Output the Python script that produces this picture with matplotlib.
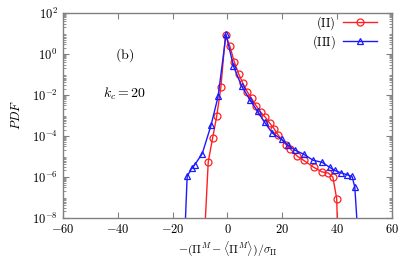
import numpy as np
import matplotlib
matplotlib.use('Agg')
import matplotlib.pyplot as plt
from matplotlib.ticker import LogLocator, NullFormatter

plt.rcParams['mathtext.fontset'] = 'cm'
plt.rcParams['font.family'] = 'serif'
plt.rcParams['font.serif'] = ['DejaVu Serif']

# case (II): x values and log10(PDF)
x_2 = [-8.4, -7.0, -5.4, -3.9, -2.4, -0.7, 0.9, 2.5, 4.1, 5.6, 7.2, 8.8, 10.5,
       12.2, 13.8, 15.4, 17.0, 18.4, 21.4, 23.0, 25.5, 27.8, 31.6, 34.6, 36.8,
       38.5, 39.9, 40.3]
logp_2 = [-9.0, -5.27, -4.11, -3.04, -1.64, 0.93, 0.37, -0.39, -0.98, -1.43,
          -1.84, -2.18, -2.54, -2.86, -3.09, -3.38, -3.65, -3.95, -4.44, -4.65,
          -5.0, -5.2, -5.55, -5.77, -5.82, -6.03, -7.08, -9.0]

# case (III)
x_3 = [-15.6, -14.7, -13.1, -11.9, -9.2, -6.0, -3.4, -0.5, 2.2, 5.2, 8.2, 11.0,
       13.6, 16.4, 19.8, 22.0, 24.6, 27.8, 31.3, 34.6, 37.4, 39.2, 41.6, 43.5,
       45.5, 46.5, 47.7]
logp_3 = [-9.0, -5.99, -5.6, -5.41, -4.88, -3.5, -2.08, 0.95, -0.6, -1.58,
          -2.24, -2.81, -3.35, -3.87, -4.18, -4.45, -4.7, -4.9, -5.2, -5.3,
          -5.55, -5.7, -5.82, -5.9, -5.99, -6.5, -9.0]

fig = plt.figure(figsize=(4.15, 2.59), dpi=100)
ax = fig.add_axes([0.152, 0.16, 0.792, 0.79])

ax.plot(x_2, 10.0 ** np.array(logp_2), color='#ff2020', lw=1.0, marker='o',
        mfc='none', ms=5, mew=0.9, markevery=slice(1, -1), label=r'$\mathrm{(II)}$')
ax.plot(x_3, 10.0 ** np.array(logp_3), color='#1a1aff', lw=1.0, marker='^',
        mfc='none', ms=5, mew=0.9, markevery=slice(1, -1), label=r'$\mathrm{(III)}$')

ax.set_yscale('log')
ax.set_xlim(-60, 60)
ax.set_ylim(1e-8, 1e2)
ax.set_xticks([-60, -40, -20, 0, 20, 40, 60])
ax.set_xticklabels([r'$-60$', r'$-40$', r'$-20$', r'$0$', r'$20$', r'$40$', r'$60$'])
ax.set_yticks([1e-8, 1e-6, 1e-4, 1e-2, 1e0, 1e2])
ax.set_yticklabels([r'$10^{-8}$', r'$10^{-6}$', r'$10^{-4}$', r'$10^{-2}$',
                    r'$10^{0}$', r'$10^{2}$'])
ax.yaxis.set_minor_locator(LogLocator(base=10, subs=np.arange(2, 10), numticks=20))
ax.yaxis.set_minor_formatter(NullFormatter())

ax.tick_params(which='both', direction='in', top=True, right=True, labelsize=9,
               color='#808080')
ax.tick_params(which='major', length=4, pad=4)
ax.tick_params(which='minor', length=2)
for s in ax.spines.values():
    s.set_color('#808080')
    s.set_linewidth(1.0)

ax.set_xlabel(r'${-}(\Pi^M - \langle\Pi^M\rangle)/\sigma_\Pi$', fontsize=8.5, labelpad=2)
ax.set_ylabel(r'$PDF$', fontsize=9, labelpad=6)

ax.text(-37.4, 0.9, r'$\mathrm{(b)}$', fontsize=10, ha='center', va='center')
ax.text(-37.4, 1.1e-2, r'$k_c = 20$', fontsize=10, ha='center', va='center')

ax.legend(loc='upper right', bbox_to_anchor=(0.955, 0.995), frameon=False,
          markerfirst=False, fontsize=9, handlelength=2.7, borderaxespad=0,
          labelspacing=0.1, handletextpad=0.6, borderpad=0)

fig.savefig('out.png', dpi=100)
